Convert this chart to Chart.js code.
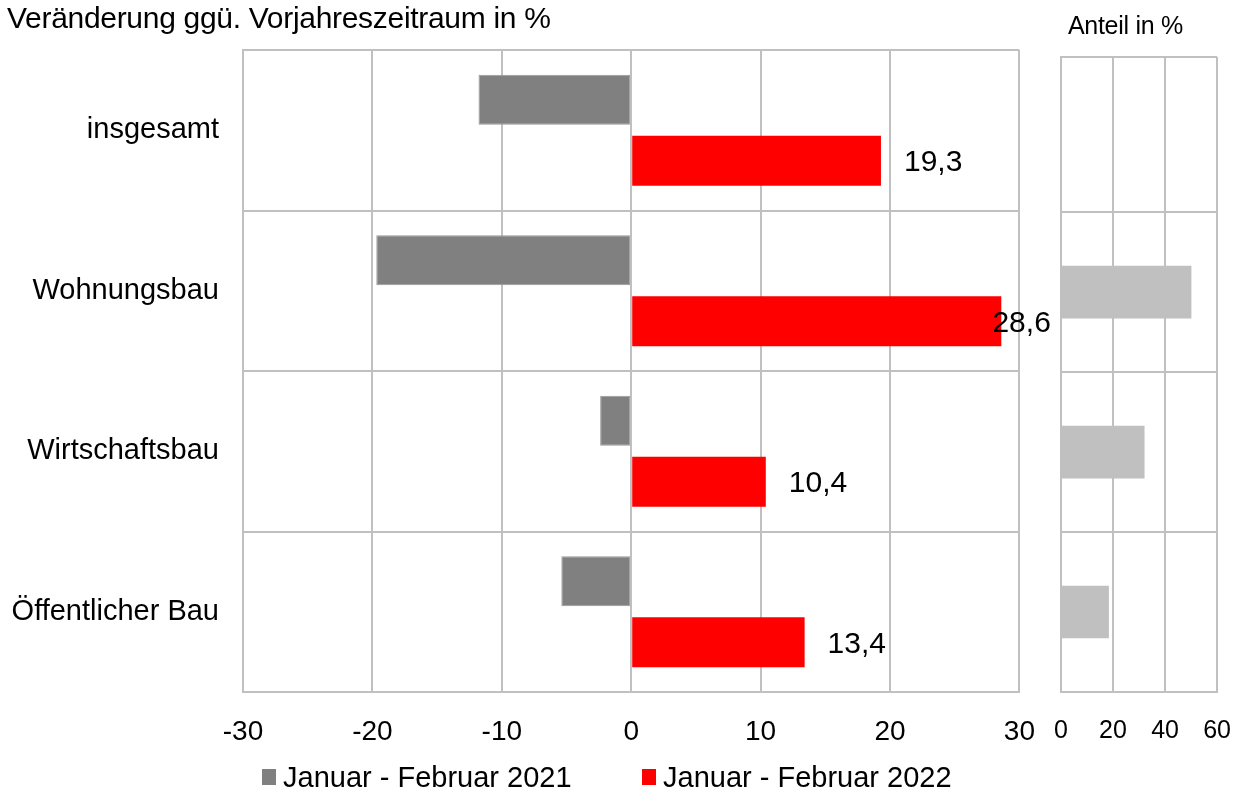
<!DOCTYPE html>
<html>
<head>
<meta charset="utf-8">
<script src="https://cdn.jsdelivr.net/npm/chart.js@4.4.0/dist/chart.umd.min.js"></script>
<style>
  html, body { margin: 0; padding: 0; background: #fff; }
  body { width: 1245px; height: 794px; position: relative; overflow: hidden; font-family: 'Liberation Sans', Arial, sans-serif; color: #000; }
  #main { position: absolute; left: 0; top: 0; }
  #side { position: absolute; left: 1030px; top: 0; }
  .txt { position: absolute; white-space: nowrap; line-height: 1; }
  .box { position: absolute; width: 14px; height: 16px; }
</style>
</head>
<body>
<canvas id="main" width="1058" height="794"></canvas>
<canvas id="side" width="225" height="794"></canvas>
<div class="txt" id="title" style="left:7px; top:3px; font-size:30px; letter-spacing:-0.3px;">Veränderung ggü. Vorjahreszeitraum in %</div>
<div class="txt" id="title2" style="left:1068px; top:13px; font-size:25px; letter-spacing:-0.3px;">Anteil in %</div>
<div class="box" style="left:262px; top:769px; background:#808080;"></div>
<div class="txt" style="left:283px; top:763px; font-size:29px;">Januar - Februar 2021</div>
<div class="box" style="left:642px; top:769px; background:#ff0000;"></div>
<div class="txt" style="left:663px; top:763px; font-size:29px;">Januar - Februar 2022</div>
<script>
// ---- data ----
const categories = ['insgesamt', 'Wohnungsbau', 'Wirtschaftsbau', 'Öffentlicher Bau'];
const change2021 = [-11.8, -19.7, -2.4, -5.4];
const change2022 = [19.3, 28.6, 10.4, 13.4];
const labels2022 = ['19,3', '28,6', '10,4', '13,4'];
const share = [null, 50.0, 32.0, 18.3];
const mainTicks = [-30, -20, -10, 0, 10, 20, 30];
const shareTicks = [0, 20, 40, 60];

const FONT = "'Liberation Sans', Arial, sans-serif";
const GRID = '#c0c0c0';

const valueLabels = {
  id: 'valueLabels',
  afterDatasetsDraw(chart) {
    const ctx = chart.ctx;
    const meta = chart.getDatasetMeta(1);
    ctx.save();
    ctx.font = '30px ' + FONT;
    ctx.fillStyle = '#000';
    ctx.textAlign = 'left';
    ctx.textBaseline = 'middle';
    meta.data.forEach((bar, i) => {
      const x = Math.min(bar.x + 23, chart.chartArea.right - 27);
      ctx.fillText(labels2022[i], x, bar.y + 2);
    });
    ctx.restore();
  }
};

new Chart(document.getElementById('main'), {
  type: 'bar',
  data: {
    labels: categories,
    datasets: [
      { label: 'Januar - Februar 2021', data: change2021, backgroundColor: '#808080', borderColor: '#999999', borderWidth: 1, borderSkipped: false, categoryPercentage: 0.76, barPercentage: 0.82 },
      { label: 'Januar - Februar 2022', data: change2022, backgroundColor: '#ff0000', borderWidth: 0, categoryPercentage: 0.76, barPercentage: 0.82 }
    ]
  },
  options: {
    indexAxis: 'y',
    responsive: false,
    animation: false,
    layout: { padding: { top: 50, right: 0, left: 0, bottom: 0 } },
    plugins: { legend: { display: false }, tooltip: { enabled: false } },
    scales: {
      x: {
        type: 'linear', min: -30, max: 30,
        afterBuildTicks: s => { s.ticks = mainTicks.map(v => ({ value: v })); },
        afterFit: s => { s.height = 102; },
        grid: { color: GRID, lineWidth: 2, drawTicks: false },
        border: { color: GRID, width: 2 },
        ticks: { color: '#000', font: { family: FONT, size: 28 }, padding: 23, maxRotation: 0 }
      },
      y: {
        type: 'category',
        afterFit: s => { s.width = 243; },
        grid: { color: GRID, lineWidth: 2, drawTicks: false, offset: true },
        border: { color: GRID, width: 2 },
        ticks: { color: '#000', font: { family: FONT, size: 29 }, padding: 24 }
      }
    }
  },
  plugins: [valueLabels]
});

new Chart(document.getElementById('side'), {
  type: 'bar',
  data: {
    datasets: [
      { label: 'Anteil', data: share.map((v, i) => ({ x: v, y: i })), backgroundColor: '#c0c0c0', borderWidth: 0, barThickness: 52 }
    ]
  },
  options: {
    indexAxis: 'y',
    responsive: false,
    animation: false,
    layout: { padding: { top: 57, right: 0, left: 0, bottom: 0 } },
    plugins: { legend: { display: false }, tooltip: { enabled: false } },
    scales: {
      x: {
        type: 'linear', min: 0, max: 60,
        afterBuildTicks: s => { s.ticks = shareTicks.map(v => ({ value: v })); },
        afterFit: s => { s.height = 102; },
        grid: { color: GRID, lineWidth: 2, drawTicks: false },
        border: { color: GRID, width: 2 },
        ticks: { color: '#000', font: { family: FONT, size: 25 }, padding: 24, maxRotation: 0 }
      },
      y: {
        type: 'linear', min: -0.47, max: 3.5, reverse: true, offset: false,
        afterBuildTicks: s => { s.ticks = [-0.47, 0.5, 1.5, 2.5, 3.5].map(v => ({ value: v })); },
        afterFit: s => { s.width = 0; },
        grid: { color: GRID, lineWidth: 2, drawTicks: false, offset: false },
        border: { color: GRID, width: 2 },
        ticks: { display: false }
      }
    }
  }
});
</script>
</body>
</html>
